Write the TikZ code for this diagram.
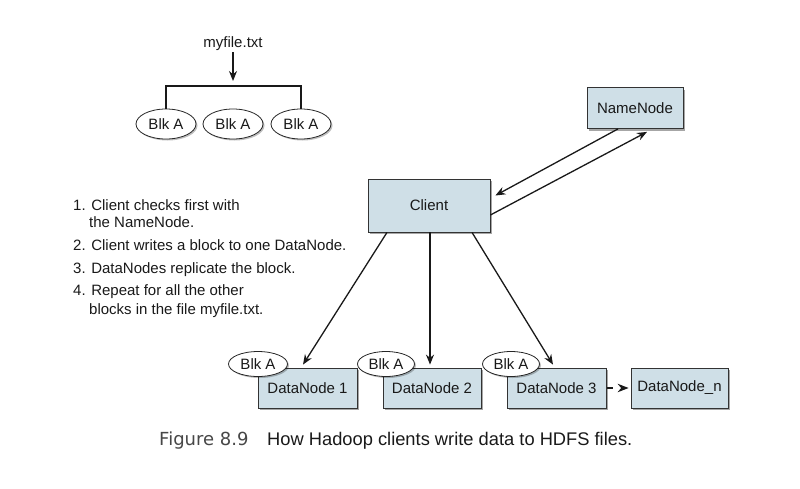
\documentclass[tikz,border=0pt]{standalone}
\usepackage{fontspec}
\setmainfont{Liberation Sans}
\newfontfamily\figfont{DejaVu Sans}
\usetikzlibrary{arrows.meta,shapes.geometric,shadows}
\definecolor{boxfill}{RGB}{207,223,231}
\definecolor{inkc}{RGB}{25,25,25}
\begin{document}
\begin{tikzpicture}[x=1pt,y=-1pt,
  every node/.style={font=\fontsize{15}{18}\selectfont, text=inkc},
  box/.style={draw=black!80, line width=0.8pt, fill=boxfill, inner sep=0pt,
    drop shadow={shadow xshift=2pt, shadow yshift=-2pt, fill=black, opacity=0.35}},
  blk/.style={ellipse, draw=black!85, line width=0.8pt, fill=white, inner sep=0pt,
    drop shadow={shadow xshift=1.5pt, shadow yshift=-1.5pt, fill=black, opacity=0.25}},
  arr/.style={line width=1.3pt, draw=inkc, -{Stealth[length=10pt,width=8pt]}},
  conn/.style={line width=1.3pt, draw=inkc},
  listline/.style={anchor=mid west, inner sep=0pt}
]
\useasboundingbox (0,0) rectangle (800,488);

% top file split
\node[inner sep=1pt] (file) at (233,44) {myfile.txt};
\node[blk, minimum width=60pt, minimum height=30pt] (b1) at (166,124) {Blk A};
\node[blk, minimum width=60pt, minimum height=30pt] (b2) at (233,124) {Blk A};
\node[blk, minimum width=60pt, minimum height=30pt] (b3) at (301,124) {Blk A};
\coordinate (split) at (233,86);
\draw[arr] (file.south) -- ([yshift=5pt]split);
\draw[conn] (b1.north) -- (b1.north |- split) -- (b3.north |- split) -- (b3.north);

% list
\node[listline] (l1) at (73,208) {1. Client checks first with};
\node[listline] (l1b) at (89,225) {the NameNode.};
\node[listline] (l2) at (73,248) {2. Client writes a block to one DataNode.};
\node[listline] (l3) at (73,271) {3. DataNodes replicate the block.};
\node[listline] (l4) at (73,293) {4. Repeat for all the other};
\node[listline] (l4b) at (89,312) {blocks in the file myfile.txt.};

% boxes
\node[box, minimum width=96pt, minimum height=41pt] (nn) at (635,108) {NameNode};
\node[box, minimum width=122pt, minimum height=53pt] (cl) at (429,205.5) {Client};
\node[box, minimum width=99pt, minimum height=40pt] (d1) at (307.5,388) {DataNode 1};
\node[box, minimum width=98pt, minimum height=40pt] (d2) at (432,388) {DataNode 2};
\node[box, minimum width=99pt, minimum height=40pt] (d3) at (556.5,388) {DataNode 3};
\node[box, minimum width=97pt, minimum height=40pt] (dn) at (679.5,388) {DataNode\_n};

\node[blk, minimum width=59pt, minimum height=25pt] (e1) at (258,364) {Blk A};
\node[blk, minimum width=57pt, minimum height=25pt] (e2) at (386,364) {Blk A};
\node[blk, minimum width=57pt, minimum height=25pt] (e3) at (511,364) {Blk A};

% connectors
\draw[arr] ([xshift=-17pt]nn.south) -- ([xshift=5pt,yshift=10pt]cl.east);
\draw[arr] ([yshift=-9.5pt]cl.east) -- ([xshift=12pt,yshift=-3pt]nn.south);
\draw[arr] ([xshift=-42pt]cl.south) -- ([xshift=-4.5pt,yshift=3pt]d1.north);
\draw[arr] ([xshift=1pt]cl.south) -- ([xshift=-2pt,yshift=3pt]d2.north);
\draw[arr] ([xshift=43pt]cl.south) -- ([xshift=-3.5pt,yshift=3pt]d3.north);
\draw[line width=1.3pt, draw=inkc, dash pattern=on 6pt off 30pt, -{Stealth[length=11pt,width=8.5pt]}]
  ([xshift=1pt]d3.east) -- ([xshift=-2pt]dn.west);

% caption
\node[anchor=mid west, inner sep=0pt, font=\figfont\fontsize{18}{21}\selectfont, text=black!72] (fig) at (159,443) {Figure 8.9};
\node[anchor=mid west, inner sep=0pt, font=\fontsize{18.3}{21}\selectfont, text=black!90] (cap) at (267,443) {How Hadoop clients write data to HDFS files.};
\end{tikzpicture}
\end{document}
